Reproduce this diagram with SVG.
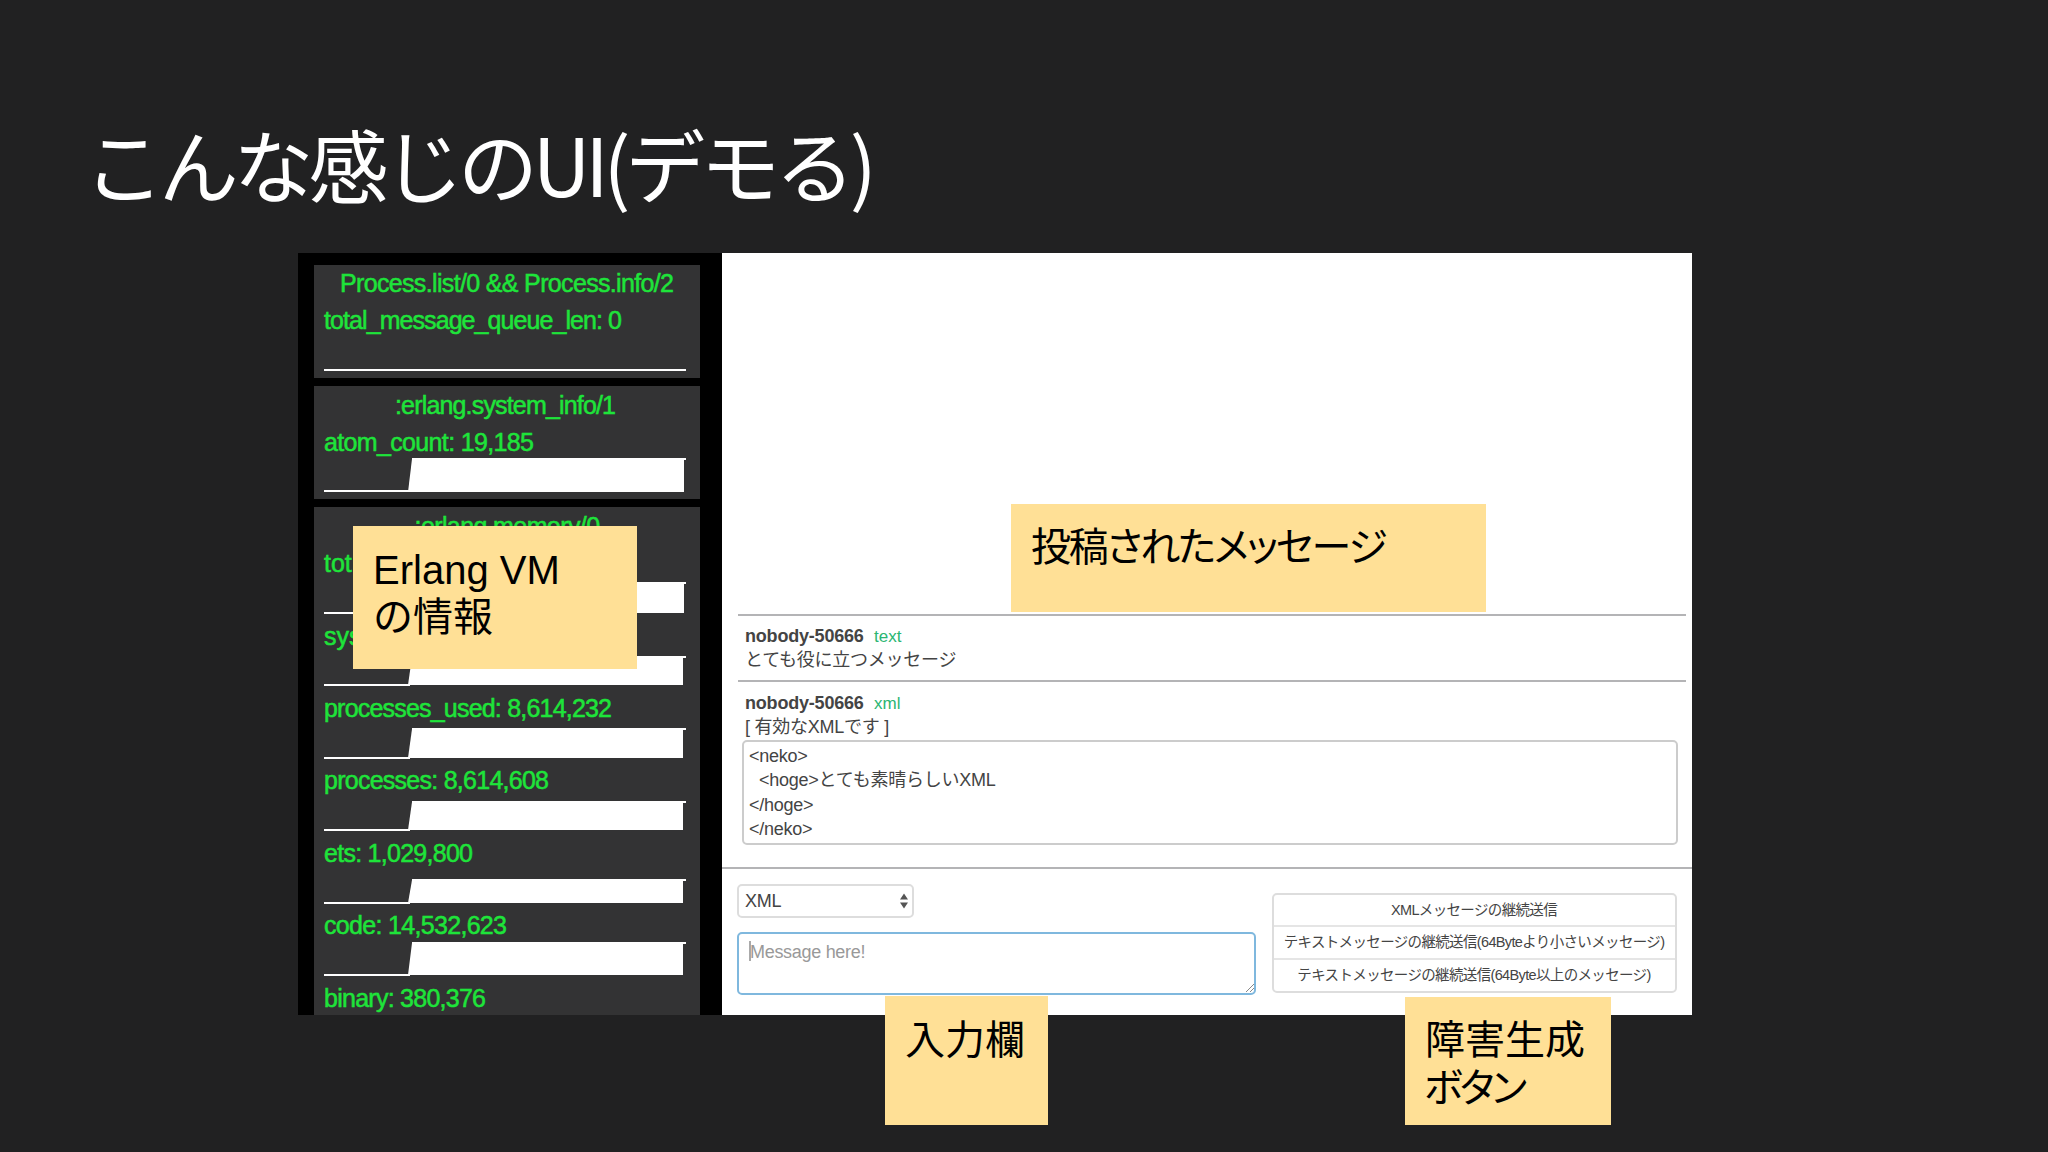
<svg xmlns="http://www.w3.org/2000/svg" width="2048" height="1152" viewBox="0 0 2048 1152">
<defs>
<style>
text{font-family:"Liberation Sans","Noto Sans CJK JP",sans-serif}
.panel{fill:#333334}
.g{fill:#1ee43a;font-size:25px;stroke:#1ee43a;stroke-width:.5px}
.w{fill:#fff}
.sticky{fill:#ffe096}
.st{fill:#000;font-size:40px}
.palt{font-feature-settings:"palt"}
.rule{stroke:#b4b4b6;stroke-width:2;fill:none}
.b{fill:#444;font-size:18px;font-weight:700;letter-spacing:-.2px}
.t{fill:#444;font-size:18px;letter-spacing:-.25px}
.gt{fill:#2bb673;font-size:17px}
.btn{fill:#444;font-size:14.5px;letter-spacing:-.65px;text-anchor:middle}
.ln{stroke:#fff;stroke-width:2;fill:none}
</style>
</defs>
<rect width="2048" height="1152" fill="#212122"/>
<g id="title"><text x="84" y="197" font-size="80" fill="#fff" style="font-family:'Noto Sans CJK JP','Liberation Sans',sans-serif;letter-spacing:-5.2px">こんな感じのUI(デモる)</text></g>
<g id="erlang-panel">
<rect x="298" y="253" width="424" height="762" fill="#000"/>
<rect class="panel" x="314" y="265" width="386" height="113"/>
<rect class="panel" x="314" y="386" width="386" height="113"/>
<rect class="panel" x="314" y="507" width="386" height="508"/>
<text class="g" x="340" y="292" textLength="334">Process.list/0 &amp;&amp; Process.info/2</text>
<text class="g" x="324" y="329" textLength="298">total_message_queue_len: 0</text>
<path class="ln" d="M324 370H686"/>
<text class="g" x="395" y="414" textLength="221">:erlang.system_info/1</text>
<text class="g" x="324" y="451" textLength="210">atom_count: 19,185</text>
<path class="ln" d="M324 491H410M412 459H686"/>
<path class="w" d="M408 492L412 459H684V492Z"/>
<text class="g" x="507" y="535" text-anchor="middle" letter-spacing="-.6">:erlang.memory/0</text>
<text class="g" x="324" y="572">tot</text>
<path class="ln" d="M324 613H410M412 583H686"/>
<path class="w" d="M408 613L412 583H684V613Z"/>
<text class="g" x="324" y="645">sys</text>
<path class="ln" d="M324 685H410M412 657H686"/>
<path class="w" d="M408 685L412 657H683V685Z"/>
<text class="g" x="324" y="717" textLength="288">processes_used: 8,614,232</text>
<path class="ln" d="M324 758H410M412 729H686"/>
<path class="w" d="M408 758L412 729H683V758Z"/>
<text class="g" x="324" y="789" textLength="225">processes: 8,614,608</text>
<path class="ln" d="M324 830H410M412 802H686"/>
<path class="w" d="M408 830L412 802H683V830Z"/>
<text class="g" x="324" y="862" textLength="149">ets: 1,029,800</text>
<path class="ln" d="M324 903H410M412 880H686"/>
<path class="w" d="M408 903L412 880H683V903Z"/>
<text class="g" x="324" y="934" textLength="183">code: 14,532,623</text>
<path class="ln" d="M324 975H410M412 943H686"/>
<path class="w" d="M408 975L412 943H683V975Z"/>
<text class="g" x="324" y="1007" textLength="162">binary: 380,376</text>
</g>
<g id="chat-panel">
<rect class="w" x="722" y="253" width="970" height="762"/>
<path class="rule" d="M738 615H1686M738 681H1686M722 868H1692"/>
<text class="b" x="745" y="642">nobody-50666</text><text class="gt" x="874" y="642">text</text>
<text class="t" x="745" y="666">とても役に立つメッセージ</text>
<text class="b" x="745" y="709">nobody-50666</text><text class="gt" x="874" y="709">xml</text>
<text class="t" x="745" y="733">[ 有効なXMLです ]</text>
<rect x="743" y="741" width="934" height="103" rx="4" fill="#fff" stroke="#ccc" stroke-width="2"/>
<text class="t" x="749" y="762">&lt;neko&gt;</text>
<text class="t" x="759" y="786">&lt;hoge&gt;とても素晴らしいXML</text>
<text class="t" x="749" y="811">&lt;/hoge&gt;</text>
<text class="t" x="749" y="835">&lt;/neko&gt;</text>
</g>
<g id="input-form">
<rect x="738" y="885" width="175" height="32" rx="4" fill="#fff" stroke="#ddd" stroke-width="2"/>
<text class="t" x="745" y="907">XML</text>
<path d="M900 899.500l4-6 4 6ZM900 902.500l4 6 4-6Z" fill="#555"/>
<rect x="738" y="933" width="517" height="61" rx="4" fill="#fff" stroke="#7fb8de" stroke-width="2"/>
<path d="M750 941V961" stroke="#555" stroke-width="1"/>
<text x="750" y="958" font-size="18" fill="#999" letter-spacing="-.3">Message here!</text>
<path d="M1246 992L1254 984M1250 992L1254 988" stroke="#888" stroke-width="1"/>
</g>
<g id="fault-buttons">
<rect x="1273" y="894" width="403" height="98" rx="4" fill="#fff" stroke="#ddd" stroke-width="2"/>
<path d="M1273 926H1676M1273 959H1676" stroke="#ddd" stroke-width="1.500"/>
<text class="btn" x="1474" y="915">XMLメッセージの継続送信</text>
<text class="btn" x="1474" y="947">テキストメッセージの継続送信(64Byteより小さいメッセージ)</text>
<text class="btn" x="1474" y="980">テキストメッセージの継続送信(64Byte以上のメッセージ)</text>
</g>
<g id="note-erlang"><rect class="sticky" x="353" y="526" width="284" height="143"/><text class="st" x="373" y="584">Erlang VM</text><text class="st" x="373" y="631">の情報</text></g>
<g id="note-messages"><rect class="sticky" x="1011" y="504" width="475" height="108"/><text class="st palt" x="1031" y="561" letter-spacing="-2.2">投稿されたメッセージ</text></g>
<g id="note-input"><rect class="sticky" x="885" y="996" width="163" height="129"/><text class="st" x="905" y="1054">入力欄</text></g>
<g id="note-fault"><rect class="sticky" x="1405" y="997" width="206" height="128"/><text class="st" x="1425" y="1054">障害生成</text><text class="st palt" x="1424" y="1102" letter-spacing="-3">ボタン</text></g>
</svg>
